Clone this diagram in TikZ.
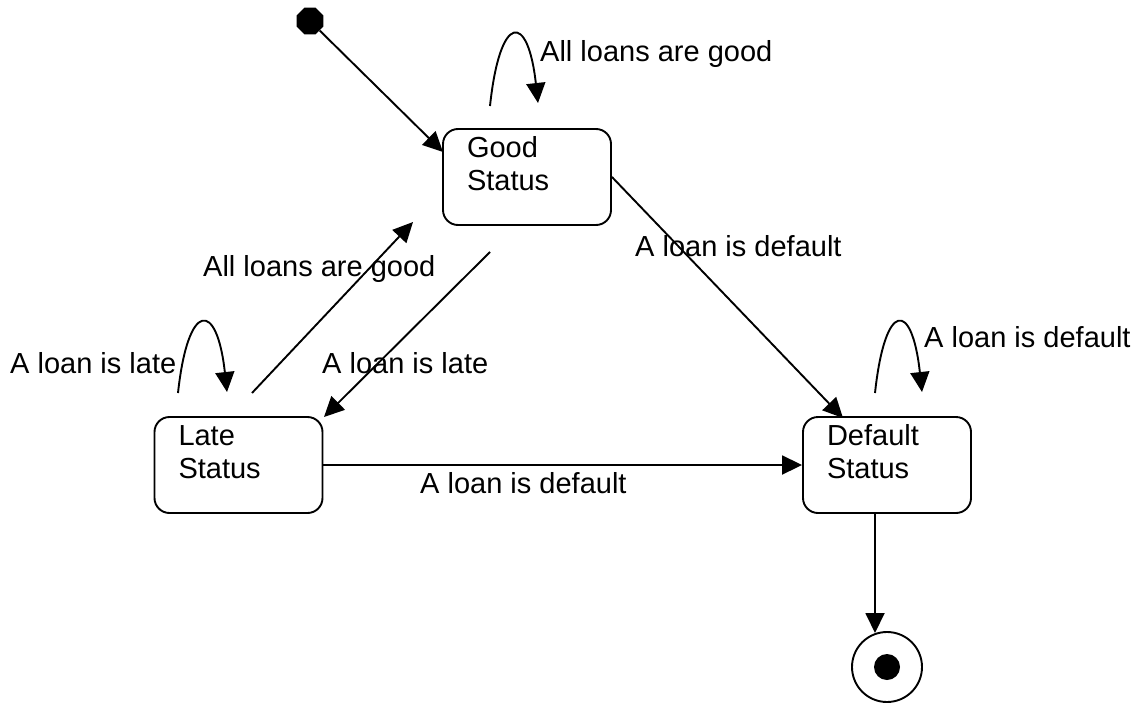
\documentclass[tikz,border=0pt]{standalone}
\usepackage{fontspec}
\setmainfont{Liberation Sans}
\usetikzlibrary{arrows.meta,shapes.geometric,calc}
\begin{document}
\begin{tikzpicture}[x=1pt,y=-1pt,
  every node/.style={font=\fontsize{29}{33}\selectfont},
  state/.style={draw, rounded corners=15pt, line width=1.9pt,
    minimum width=168pt, minimum height=96pt, inner sep=0pt},
  trans/.style={-{Triangle[length=20pt,width=19pt]}, line width=1.9pt},
  lbl/.style={anchor=base west, inner sep=0pt}]
\useasboundingbox (0,0) rectangle (1135,704);

\newcommand{\statetext}[2]{\parbox[c][96pt][t]{168pt}{\leftskip=24pt\rule{0pt}{28pt}#1\\#2}}

% states
\node[state] (good)    at (527,177) {\statetext{Good}{Status}};
\node[state] (late)    at (238.5,465) {\statetext{Late}{Status}};
\node[state] (default) at (887,465) {\statetext{Default}{Status}};

% pseudo states
\node[regular polygon, regular polygon sides=8, fill, minimum size=29pt, inner sep=0pt] (init) at (310,21) {};
\node[circle, draw, line width=1.9pt, minimum size=70pt, inner sep=0pt] (final) at (887,667) {};
\node[circle, fill, minimum size=26pt, inner sep=0pt] (finaldot) at (final.center) {};

% connector ends
\coordinate (goodin)   at (443,152);
\coordinate (goodlo)   at (490,106);
\coordinate (goodli)   at (538,103);
\coordinate (lateout)  at (252,393);
\coordinate (goodtip)  at (413,222);
\coordinate (goodout)  at (490,252);
\coordinate (latetip)  at (324,417);
\coordinate (latelo)   at (178,393);
\coordinate (lateli)   at (227,392);
\coordinate (defin)    at (843,418);
\coordinate (deflo)    at (875,393);
\coordinate (defli)    at (922,392);
\coordinate (defout)   at (875,513);
\coordinate (finalin)  at (875,633);

% transitions
\draw[trans] (init) -- (goodin);
\draw[trans] (goodlo) .. controls (500,12) and (528,12) .. (goodli);
\draw[trans] (lateout) -- (goodtip);
\draw[trans] (goodout) -- (latetip);
\draw[trans] (latelo) .. controls (188,300) and (217,300) .. (lateli);
\draw[trans] (good.east) -- (defin);
\draw[trans] (late.east) -- (default.west);
\draw[trans] (deflo) .. controls (885,300) and (912,300) .. (defli);
\draw[trans] (defout) -- (finalin);

% transition labels
\node[lbl] (lgoodself) at (540,61)  {All loans are good};
\node[lbl] (lgooddef)  at (635,256) {A loan is default};
\node[lbl] (llategood) at (203,276) {All loans are good};
\node[lbl] (llateself) at (10,373)  {A loan is late};
\node[lbl] (lgoodlate) at (322,373) {A loan is late};
\node[lbl] (ldefself)  at (924,347) {A loan is default};
\node[lbl] (llatedef)  at (420,493) {A loan is default};
\end{tikzpicture}
\end{document}
